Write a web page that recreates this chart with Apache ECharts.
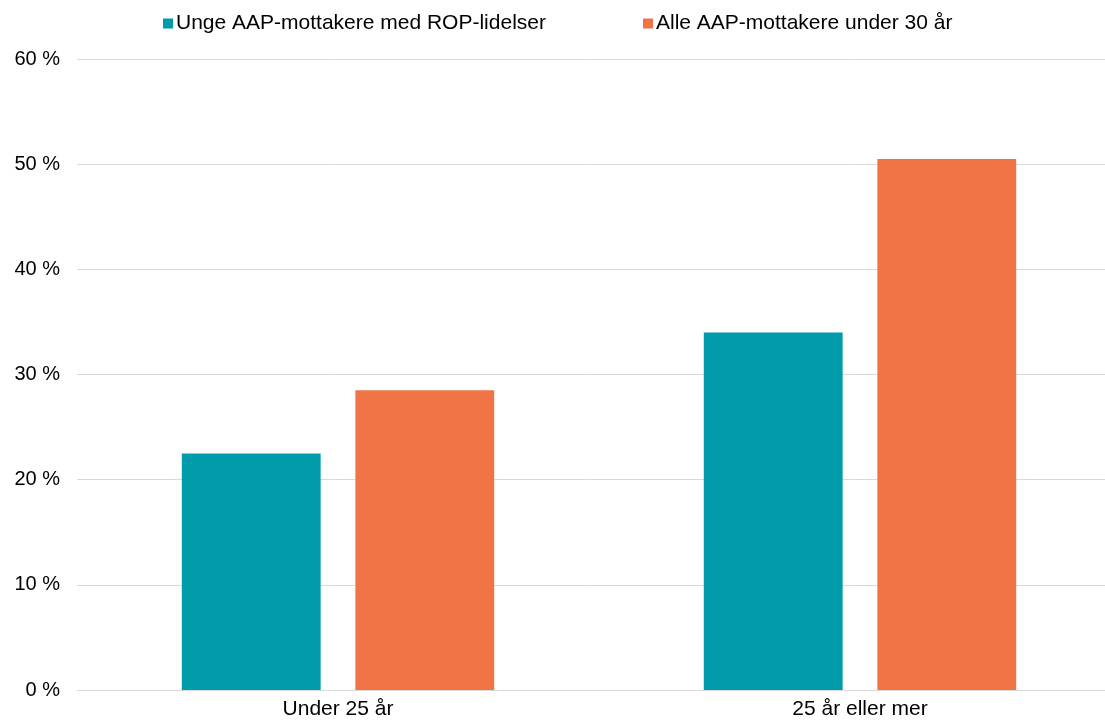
<!DOCTYPE html>
<html>
<head>
<meta charset="utf-8">
<script src="https://cdn.jsdelivr.net/npm/echarts@6/dist/echarts.min.js"></script>
<style>
  html, body { margin: 0; padding: 0; background: #fff; }
  #main { width: 1105px; height: 722px; }
</style>
</head>
<body>
<div id="main"></div>
<script>
var categories = ['Under 25 år', '25 år eller mer'];
var seriesNames = ['Unge AAP-mottakere med ROP-lidelser', 'Alle AAP-mottakere under 30 år'];
var ropValues = [22.5, 34.0];
var allValues = [28.5, 50.5];
var yTicks = [0, 10, 20, 30, 40, 50, 60];

var chartDom = document.getElementById('main');
var myChart = echarts.init(chartDom);
var font = 'Liberation Sans, Arial, sans-serif';

var option = {
  animation: false,
  textStyle: { fontFamily: font },
  legend: {
    top: 13,
    left: 163,
    padding: 0,
    itemWidth: 10,
    itemHeight: 10,
    itemGap: 97,
    icon: 'rect',
    textStyle: { fontSize: 21, color: '#000', fontFamily: font, padding: [0, 0, 0, -2] },
    data: seriesNames
  },
  // plot area runs a bit past the right edge, like the original
  grid: { left: 77, width: 1044, top: 59, bottom: 32, outerBoundsMode: 'none' },
  xAxis: {
    type: 'category',
    data: categories,
    axisTick: { show: false },
    axisLine: { lineStyle: { color: '#d9d9d9' } },
    axisLabel: { color: '#000', fontSize: 21, margin: 9, fontFamily: font }
  },
  yAxis: {
    type: 'value',
    min: yTicks[0],
    max: yTicks[yTicks.length - 1],
    interval: 10,
    axisLine: { show: false },
    axisTick: { show: false },
    splitLine: { lineStyle: { color: '#d9d9d9' } },
    axisLabel: { color: '#000', fontSize: 20, margin: 17, formatter: '{value} %', fontFamily: font }
  },
  series: [
    {
      name: seriesNames[0],
      type: 'bar',
      barWidth: '26.6%',
      barGap: '25%',
      itemStyle: { color: '#009CAB' },
      data: ropValues
    },
    {
      name: seriesNames[1],
      type: 'bar',
      barWidth: '26.6%',
      itemStyle: { color: '#F07446' },
      data: allValues
    }
  ]
};

myChart.setOption(option);
</script>
</body>
</html>
